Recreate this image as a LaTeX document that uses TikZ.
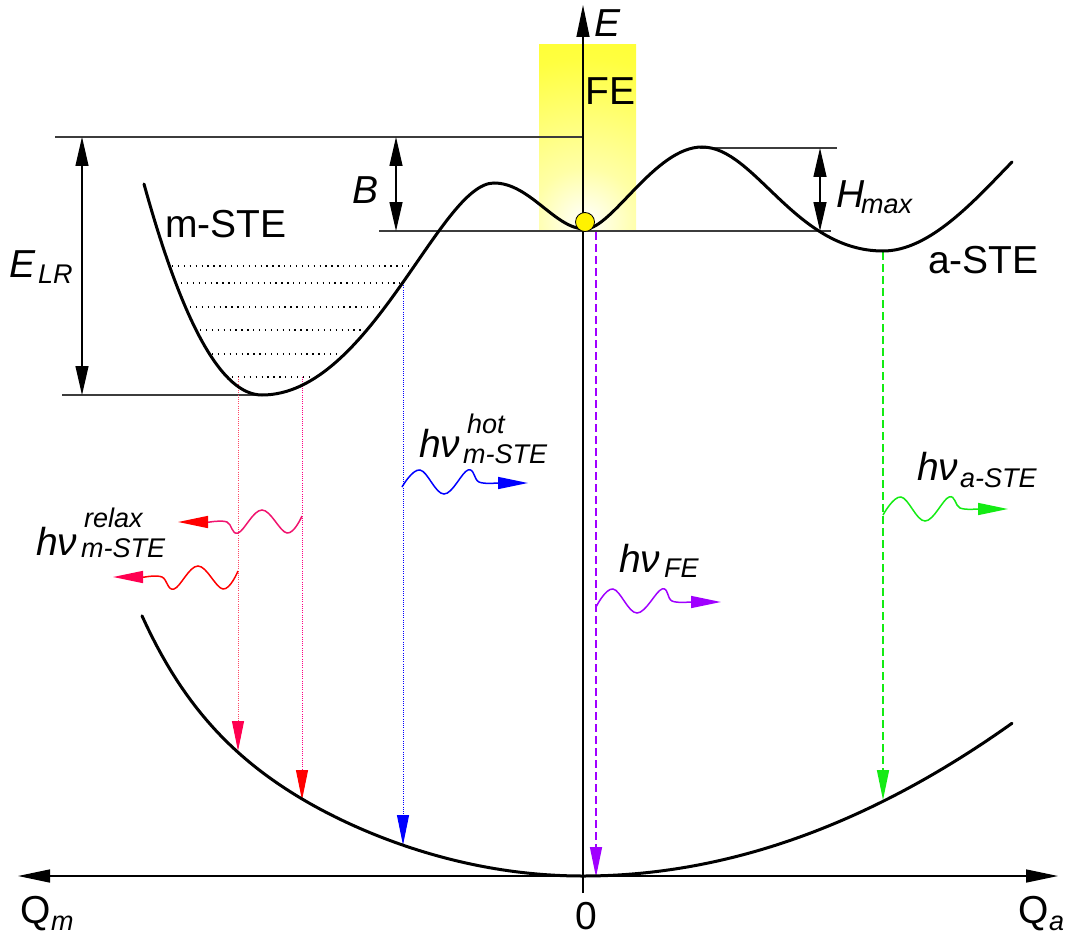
\documentclass[tikz,border=0pt]{standalone}
\usepackage{fontspec}
\setmainfont{Liberation Sans}
\usetikzlibrary{arrows.meta}
\definecolor{crim}{RGB}{255,0,80}
\definecolor{rosy}{RGB}{240,20,110}
\definecolor{lred}{RGB}{255,70,100}
\definecolor{pinkl}{RGB}{255,0,130}
\definecolor{purp}{RGB}{160,0,255}
\definecolor{grn}{RGB}{20,235,20}
\definecolor{gline}{RGB}{60,60,60}
\pgfdeclareradialshading{glow}{\pgfpoint{0bp}{0bp}}{color(0bp)=(white); color(4bp)=(yellow!35!white); color(12bp)=(yellow!75!white); color(24bp)=(yellow); color(50bp)=(yellow)}
\tikzset{
  lbl/.style={inner sep=0pt, anchor=base west, font=\fontsize{39}{44}\selectfont},
  ilbl/.style={inner sep=0pt, anchor=base west, font=\fontsize{39}{44}\selectfont\itshape},
  slbl/.style={inner sep=0pt, anchor=base west, font=\fontsize{27}{30}\selectfont\itshape},
  thinline/.style={gline, line width=1.2pt},
  dimarrow/.style={black, line width=1.2pt, {Triangle[length=29pt,width=13pt]}-{Triangle[length=29pt,width=13pt]}},
  curve/.style={black, line width=3pt, line cap=round},
  level/.style={black, line width=1.2pt, dash pattern=on 1.3pt off 4.6pt},
  emitdot/.style={line width=1pt, dash pattern=on 1pt off 1.2pt},
  emitdash/.style={line width=1.5pt, dash pattern=on 8pt off 4pt},
  wave/.style={line width=1.5pt},
}
\newcommand{\headof}[1]{-{Triangle[length=30pt,width=12pt,color=#1]}}
\begin{document}
\begin{tikzpicture}[x=1pt,y=-1pt]
\useasboundingbox (0,0) rectangle (1067,936);
% yellow glow
\begin{scope}
\clip (539,45) rectangle (636,231);
\shade[shading=glow] (585,222) circle (340pt);
\end{scope}
% thin level lines
\coordinate (t1) at (55,137); \coordinate (t2) at (583,137);
\coordinate (f1) at (379,231); \coordinate (f2) at (831,231);
\coordinate (h1) at (700,148); \coordinate (h2) at (837,148);
\coordinate (m1) at (62,395); \coordinate (m2) at (262,395);
\draw[thinline] (t1) -- (t2);
\draw[thinline] (f1) -- (f2);
\draw[thinline] (h1) -- (h2);
\draw[thinline] (m1) -- (m2);
% dimension arrows
\coordinate (elrT) at (82,137); \coordinate (elrB) at (82,395);
\coordinate (bT) at (396,137); \coordinate (bB) at (396,231);
\coordinate (hT) at (820,148); \coordinate (hB) at (820,231);
\draw[dimarrow] (elrT) -- (elrB);
\draw[dimarrow] (bT) -- (bB);
\draw[dimarrow] (hT) -- (hB);
% axes
\coordinate (vb) at (583,893); \coordinate (vt) at (583,5);
\coordinate (hl) at (18,876); \coordinate (hr) at (1058,876);
\draw[black, line width=1.3pt, -{Triangle[length=32pt,width=13pt]}] (vb) -- (vt);
\draw[black, line width=1.5pt, {Triangle[length=32pt,width=13pt]}-{Triangle[length=32pt,width=13pt]}] (hl) -- (hr);
% vibrational levels
\foreach \xa/\xb/\yy in {172/413/266, 181/400/283, 190/381/307, 200/362/330, 212/340/354, 232/310/377}
  \draw[level] (\xa,\yy) -- (\xb,\yy);
% emission lines
\coordinate (e1s) at (238,377); \coordinate (e1e) at (238,751);
\coordinate (e2s) at (302,377); \coordinate (e2e) at (302,800);
\coordinate (e3s) at (403,283); \coordinate (e3e) at (403,845);
\coordinate (e4s) at (596,232); \coordinate (e4e) at (596,877);
\coordinate (e5s) at (883,252); \coordinate (e5e) at (883,800);
\draw[emitdot, lred, \headof{crim}] (e1s) -- (e1e);
\draw[emitdot, pinkl, \headof{red}] (e2s) -- (e2e);
\draw[emitdot, blue, \headof{blue}] (e3s) -- (e3e);
\draw[emitdash, purp, \headof{purp}] (e4s) -- (e4e);
\draw[emitdash, grn, \headof{grn}] (e5s) -- (e5e);
% potential curves
\draw[curve] (144,184) .. controls (183,325) and (222,395) .. (262,395)
  .. controls (370,395) and (440,183) .. (494,183)
  .. controls (530,183) and (555,229) .. (585,229)
  .. controls (612,229) and (655,147) .. (702,147)
  .. controls (755,147) and (795,251) .. (883,251)
  .. controls (930,251) and (975,200) .. (1012,162);
\draw[curve] plot[domain=142:583, samples=90] (\x, {876 - 184*((583-\x)/440)^2 - 74*((583-\x)/440)^8})
  -- plot[domain=583:1012, samples=90] (\x, {876 - 152.75*((\x-583)/429)^2});
% ball
\node[circle, fill=yellow, draw=black, line width=0.8pt, minimum size=19pt, inner sep=0pt] (ball) at (585,222) {};
% wavy photons
\coordinate (w1) at (528,483);
\draw[wave, blue, \headof{blue}] plot[smooth, tension=0.65] coordinates {(402,487) (420,470) (444,494) (468,470) (479,482) (497,483)} -- (w1);
\coordinate (w2) at (178,522);
\draw[wave, rosy, \headof{red}] plot[smooth, tension=0.65] coordinates {(302,516) (287,533) (262,510) (238,533) (227,522) (210,522)} -- (w2);
\coordinate (w3) at (113,577);
\draw[wave, red, \headof{crim}] plot[smooth, tension=0.65] coordinates {(238,571) (223,589) (198,566) (174,589) (162,577) (145,577)} -- (w3);
\coordinate (w4) at (721,602);
\draw[wave, purp, \headof{purp}] plot[smooth, tension=0.65] coordinates {(596,607) (613,589) (637,613) (662,589) (672,601) (690,602)} -- (w4);
\coordinate (w5) at (1008,509);
\draw[wave, grn, \headof{grn}] plot[smooth, tension=0.65] coordinates {(883,515) (901,497) (925,521) (949,497) (960,508) (977,509)} -- (w5);
% labels
\node[ilbl] (Eax) at (594,37) {E};
\node[lbl] (FE) at (585,105) {FE};
\node[lbl] (mste) at (165,237) {m-STE};
\node[lbl] (aste) at (928,273) {a-STE};
\node[ilbl] (Elr) at (9,277) {E};
\node[slbl] (Elrs) at (38,283) {LR};
\node[ilbl] (Blbl) at (352,204) {B};
\node[ilbl] (Hlbl) at (836,207) {H};
\node[slbl] (Hlbls) at (861,213) {max};
\node[lbl] (Qm) at (20,923) {Q};
\node[slbl] (Qms) at (51,930) {m};
\node[lbl] (Qa) at (1018,923) {Q};
\node[slbl] (Qas) at (1049,930) {a};
\node[inner sep=0pt, anchor=base, font=\fontsize{39}{44}\selectfont] (zero) at (586,929) {0};
\node[ilbl] (hv1) at (419,457) {hν};
\node[slbl] (hv1p) at (467,433) {hot};
\node[slbl] (hv1b) at (463,463) {m-STE};
\node[ilbl] (hv2) at (36,555) {hν};
\node[slbl] (hv2p) at (84,527) {relax};
\node[slbl] (hv2b) at (81,557) {m-STE};
\node[ilbl] (hv3) at (619,572) {hν};
\node[slbl] (hv3b) at (664,577) {FE};
\node[ilbl] (hv4) at (917,480) {hν};
\node[slbl] (hv4b) at (960,487) {a-STE};
\end{tikzpicture}
\end{document}
